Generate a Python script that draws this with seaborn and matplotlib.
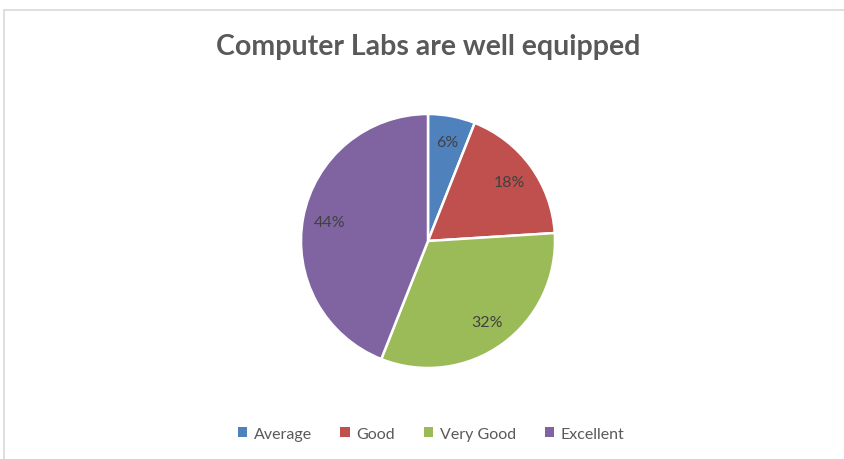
import matplotlib
matplotlib.use('Agg')
import matplotlib.pyplot as plt
from matplotlib.lines import Line2D
from matplotlib.patches import Patch
import seaborn as sns

# Survey data
categories = ['Average', 'Good', 'Very Good', 'Excellent']
percents = [6, 18, 32, 44]
colors = sns.color_palette(['#4F81BD', '#C0504D', '#9BBB59', '#8064A2'])

sns.set_theme(style='white')
plt.rcParams['font.family'] = ['Lato', 'DejaVu Sans']

fig = plt.figure(figsize=(8.44, 4.6), dpi=100)

# light chart border: only top and left edges fall inside the picture
top = 1 - 10.5 / 460
left = 3.5 / 844
fig.add_artist(Line2D([left, 1], [top, top], transform=fig.transFigure,
                      color='#D9D9D9', linewidth=1.2))
fig.add_artist(Line2D([left, left], [0, top], transform=fig.transFigure,
                      color='#D9D9D9', linewidth=1.2))

ax = fig.add_axes([(428 - 127) / 844, (460 - 242 - 127) / 460, 254 / 844, 254 / 460])
wedges, texts, autotexts = ax.pie(
    percents, colors=colors, startangle=90, counterclock=False,
    autopct='%1.0f%%', pctdistance=0.79,
    wedgeprops=dict(edgecolor='white', linewidth=1.8),
    textprops=dict(color='#404040', fontsize=11.5))
ax.set_xlim(-1, 1)
ax.set_ylim(-1, 1)
ax.set_aspect('equal')

fig.text(428 / 844, 1 - 47 / 460, 'Computer Labs are well equipped',
         ha='center', va='center', fontsize=20.5, fontweight='bold', color='#595959')

handles = [Patch(facecolor=c, edgecolor='none') for c in colors]
fig.legend(handles, categories, loc='center', bbox_to_anchor=(431 / 844, 1 - 435 / 460),
           ncol=4, frameon=False, fontsize=11.5, handlelength=0.6, handleheight=0.6,
           handletextpad=0.4, columnspacing=1.8, labelcolor='#595959')

fig.savefig('out.png', dpi=100)
